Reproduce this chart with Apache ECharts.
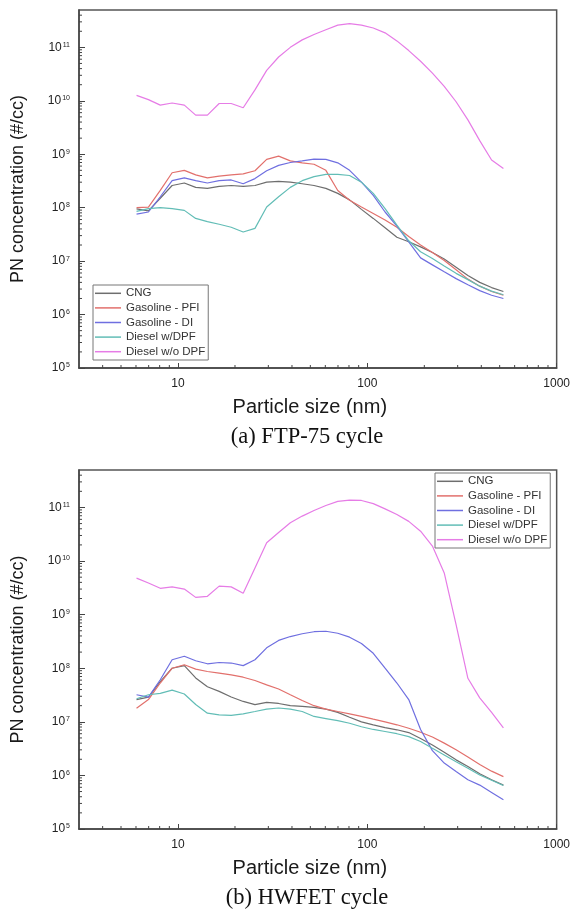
<!DOCTYPE html>
<html>
<head>
<meta charset="utf-8">
<title>PN size distribution</title>
<script src="https://cdn.jsdelivr.net/npm/echarts@6.0.0/dist/echarts.min.js"></script>
<style>
	html, body { margin: 0; padding: 0; background: #fff; }
	#chart { width: 573px; height: 911px; }
</style>
</head>
<body>
<div id="chart"></div>
<script>
// particle size channels (nm)
var sizes = [6.04, 6.98, 8.06, 9.31, 10.8, 12.4, 14.3, 16.5, 19.1, 22.1, 25.5, 29.4, 34.0, 39.2, 45.3, 52.3,
	60.4, 69.8, 80.6, 93.1, 107.5, 124.1, 143.3, 165.5, 191.1, 220.7, 254.8, 294.3, 339.8, 392.4, 453.2, 523.3];

var seriesNames = ['CNG', 'Gasoline - PFI', 'Gasoline - DI', 'Diesel w/DPF', 'Diesel w/o DPF'];
var seriesColors = ['#6e6e6e', '#e2706c', '#6f6fe0', '#62bdb6', '#e67ce6'];

// (a) FTP-75 cycle
var ftpCng = [9.5e7, 8.7e7, 1.5e8, 2.6e8, 2.9e8, 2.4e8, 2.3e8, 2.5e8, 2.6e8, 2.5e8, 2.6e8, 3.0e8, 3.1e8, 3.0e8, 2.8e8, 2.6e8,
	2.3e8, 1.85e8, 1.4e8, 9.3e7, 6.3e7, 4.2e7, 2.8e7, 2.3e7, 1.85e7, 1.45e7, 1.1e7, 7.7e6, 5.4e6, 4.0e6, 3.2e6, 2.7e6];
var ftpPfi = [1.0e8, 1.02e8, 2.1e8, 4.5e8, 5.0e8, 4.1e8, 3.6e8, 3.9e8, 4.1e8, 4.3e8, 4.9e8, 8.0e8, 9.2e8, 7.5e8, 6.9e8, 6.5e8,
	5.0e8, 2.1e8, 1.38e8, 1.03e8, 7.8e7, 5.9e7, 4.3e7, 2.9e7, 2.0e7, 1.45e7, 1.03e7, 6.9e6, 4.6e6, 3.4e6, 2.7e6, 2.3e6];
var ftpDi = [7.6e7, 8.3e7, 1.6e8, 3.2e8, 3.6e8, 3.2e8, 2.9e8, 3.2e8, 3.3e8, 2.8e8, 3.5e8, 4.9e8, 6.2e8, 7.0e8, 7.5e8, 8.1e8,
	8.0e8, 6.9e8, 5.0e8, 3.0e8, 1.7e8, 8.3e7, 4.5e7, 2.3e7, 1.15e7, 8.5e6, 6.3e6, 4.7e6, 3.6e6, 2.8e6, 2.3e6, 2.0e6];
var ftpDieselDpf = [8.5e7, 9.6e7, 1.0e8, 9.6e7, 8.9e7, 6.3e7, 5.5e7, 4.9e7, 4.3e7, 3.5e7, 4.1e7, 1.03e8, 1.6e8, 2.4e8, 3.2e8, 3.8e8,
	4.2e8, 4.2e8, 4.0e8, 3.0e8, 1.85e8, 9.6e7, 4.7e7, 2.4e7, 1.5e7, 1.12e7, 8.1e6, 5.9e6, 4.5e6, 3.4e6, 2.75e6, 2.35e6];
var ftpDieselNoDpf = [1.26e10, 1.05e10, 8.3e9, 9.1e9, 8.3e9, 5.4e9, 5.4e9, 8.9e9, 8.9e9, 7.4e9, 1.6e10, 3.7e10, 6.6e10, 1.0e11, 1.38e11, 1.74e11,
	2.14e11, 2.6e11, 2.78e11, 2.6e11, 2.3e11, 1.87e11, 1.32e11, 8.7e10, 5.5e10, 3.3e10, 1.86e10, 9.6e9, 4.4e9, 1.8e9, 7.8e8, 5.4e8];

// (b) HWFET cycle
var hwCng = [2.6e7, 2.9e7, 5.6e7, 1.0e8, 1.12e8, 6.6e7, 4.5e7, 3.7e7, 2.9e7, 2.4e7, 2.1e7, 2.3e7, 2.2e7, 2.0e7, 1.94e7, 1.86e7,
	1.73e7, 1.5e7, 1.22e7, 1.0e7, 8.8e6, 7.8e6, 7.1e6, 6.3e6, 4.9e6, 3.7e6, 2.7e6, 1.95e6, 1.47e6, 1.07e6, 8.3e5, 6.6e5];
var hwPfi = [1.8e7, 2.6e7, 5.3e7, 1.0e8, 1.16e8, 9.6e7, 8.7e7, 8.1e7, 7.5e7, 6.8e7, 5.9e7, 4.9e7, 4.1e7, 3.2e7, 2.5e7, 2.0e7,
	1.73e7, 1.56e7, 1.41e7, 1.26e7, 1.12e7, 1.0e7, 8.8e6, 7.6e6, 6.4e6, 5.2e6, 4.0e6, 3.0e6, 2.2e6, 1.6e6, 1.2e6, 9.5e5];
var hwDi = [3.2e7, 2.9e7, 6.1e7, 1.44e8, 1.67e8, 1.38e8, 1.21e8, 1.28e8, 1.25e8, 1.12e8, 1.44e8, 2.4e8, 3.3e8, 3.9e8, 4.4e8, 4.8e8,
	4.9e8, 4.5e8, 3.8e8, 2.9e8, 1.9e8, 1.0e8, 5.3e7, 2.6e7, 7.2e6, 2.9e6, 1.7e6, 1.18e6, 8.3e5, 6.6e5, 4.8e5, 3.5e5];
var hwDieselDpf = [2.7e7, 3.2e7, 3.4e7, 3.9e7, 3.3e7, 2.1e7, 1.45e7, 1.35e7, 1.32e7, 1.41e7, 1.56e7, 1.73e7, 1.81e7, 1.73e7, 1.56e7, 1.26e7,
	1.15e7, 1.05e7, 9.4e6, 8.1e6, 7.2e6, 6.6e6, 6.0e6, 5.3e6, 4.3e6, 3.2e6, 2.4e6, 1.8e6, 1.36e6, 1.02e6, 8.1e5, 6.5e5];
var hwDieselNoDpf = [4.8e9, 3.9e9, 3.1e9, 3.3e9, 3.0e9, 2.1e9, 2.2e9, 3.4e9, 3.3e9, 2.5e9, 7.4e9, 2.2e10, 3.4e10, 5.2e10, 6.9e10, 8.8e10,
	1.09e11, 1.3e11, 1.37e11, 1.35e11, 1.18e11, 9.4e10, 7.4e10, 5.5e10, 3.6e10, 1.9e10, 6.0e9, 6.5e8, 6.5e7, 2.8e7, 1.5e7, 7.7e6];

// axes
var xMin = 3, xMax = 1000;
var yMin = 1e5, yMax = 5e11;
var xTickLabels = ['10', '100', '1000'];
var yTickExps = [5, 6, 7, 8, 9, 10, 11];
var minorMantissas = [2, 3, 4, 5, 6, 7, 8, 9];
var xMinorStart = [4, 5, 6, 7, 8, 9];

var captions = ['(a) FTP-75 cycle', '(b) HWFET cycle'];
var xName = 'Particle size (nm)';
var yName = 'PN concentration (#/cc)';

var FONT = 'Liberation Sans, Arial, sans-serif';
var SERIF = 'Liberation Serif, Times New Roman, serif';

// minor tick values (2..9 x 10^n inside the axis range)
var xMinorTicks = xMinorStart.slice();
[10, 100].forEach(function (d) {
	minorMantissas.forEach(function (m) { xMinorTicks.push(m * d); });
});
var yMinorTicks = [];
yTickExps.forEach(function (e) {
	minorMantissas.forEach(function (m) {
		var v = m * Math.pow(10, e);
		if (v < yMax) yMinorTicks.push(v);
	});
});

function pairs(values) {
	return sizes.map(function (s, i) { return [s, values[i]]; });
}

function yLabel(v) {
	var e = Math.round(Math.log(v) / Math.LN10);
	if (yTickExps.indexOf(e) < 0) return '';
	return '{b|10}{s|' + e + '}';
}

function xLabel(v) {
	var s = String(Math.round(v));
	return xTickLabels.indexOf(s) >= 0 ? s : '';
}

function makeAxes(g) {
	var x = {
		type: 'log', gridIndex: g, min: xMin, max: xMax, logBase: 10,
		name: xName, nameLocation: 'middle', nameGap: 29,
		nameTextStyle: { fontFamily: FONT, fontSize: 20, color: '#1a1a1a', padding: [0, 16, 0, 0] },
		axisLine: { lineStyle: { color: '#444', width: 1.5 } },
		axisTick: { inside: true, length: 5, lineStyle: { color: '#444', width: 1 } },
		axisLabel: { formatter: xLabel, showMinLabel: false, margin: 10, fontFamily: FONT, fontSize: 12, color: '#222' },
		splitLine: { show: false }
	};
	var y = {
		type: 'log', gridIndex: g, min: yMin, max: yMax, logBase: 10,
		name: yName, nameLocation: 'middle', nameGap: 52, nameRotate: 90,
		nameTextStyle: { fontFamily: FONT, fontSize: 18, color: '#1a1a1a' },
		axisLine: { lineStyle: { color: '#444', width: 1.5 } },
		axisTick: { inside: true, length: 6, lineStyle: { color: '#444', width: 1 } },
		axisLabel: {
			formatter: yLabel, showMaxLabel: false, margin: 9,
			rich: {
				b: { fontFamily: FONT, fontSize: 12, color: '#222' },
				s: { fontFamily: FONT, fontSize: 7, color: '#222', verticalAlign: 'top', padding: [0, 0, 0, 1] }
			}
		},
		splitLine: { show: false }
	};
	return { x: x, y: y };
}

// short minor ticks drawn through the axis scales
function minorTickSeries(g, dir) {
	var vals = dir === 'x' ? xMinorTicks : yMinorTicks;
	return {
		type: 'custom', xAxisIndex: g, yAxisIndex: g, silent: true, clip: false, z: 5,
		data: vals.map(function (v) { return dir === 'x' ? [v, yMin] : [xMin, v]; }),
		renderItem: function (params, api) {
			var p = api.coord([api.value(0), api.value(1)]);
			return {
				type: 'line',
				shape: dir === 'x' ? { x1: p[0], y1: p[1], x2: p[0], y2: p[1] - 3 } : { x1: p[0], y1: p[1], x2: p[0] + 3, y2: p[1] },
				style: { stroke: '#444', lineWidth: 1 }
			};
		}
	};
}

function lineSeries(g, name, values, color) {
	return {
		type: 'line', name: name, xAxisIndex: g, yAxisIndex: g,
		data: pairs(values), showSymbol: false, symbol: 'none', smooth: false,
		lineStyle: { color: color, width: 1.2 }, itemStyle: { color: color },
		emphasis: { disabled: true }, animation: false
	};
}

var axes0 = makeAxes(0), axes1 = makeAxes(1);

var groups = [
	[ftpCng, ftpPfi, ftpDi, ftpDieselDpf, ftpDieselNoDpf],
	[hwCng, hwPfi, hwDi, hwDieselDpf, hwDieselNoDpf]
];

var series = [];
groups.forEach(function (grp, g) {
	grp.forEach(function (vals, i) {
		series.push(lineSeries(g, seriesNames[i], vals, seriesColors[i]));
	});
	series.push(minorTickSeries(g, 'x'));
	series.push(minorTickSeries(g, 'y'));
});

function legendAt(left, top) {
	return {
		data: seriesNames, orient: 'vertical', left: left, top: top,
		icon: 'rect', itemWidth: 26, itemHeight: 1.5, itemGap: 2,
		padding: [2, 3, 2, 2], borderColor: '#777', borderWidth: 1,
		textStyle: { fontFamily: FONT, fontSize: 11.5, color: '#333', lineHeight: 12.6 },
		selectedMode: false
	};
}

var option = {
	backgroundColor: '#fff',
	animation: false,
	title: [
		{ text: captions[0], left: 307, top: 426, textAlign: 'center', padding: 0,
			textStyle: { fontFamily: SERIF, fontSize: 22.5, fontWeight: 'normal', color: '#111' } },
		{ text: captions[1], left: 307, top: 887, textAlign: 'center', padding: 0,
			textStyle: { fontFamily: SERIF, fontSize: 22.5, fontWeight: 'normal', color: '#111' } }
	],
	legend: [legendAt(93, 285), legendAt(435, 473)],
	grid: [
		{ left: 79, right: 15, top: 10, height: 358, show: true, borderColor: '#555', borderWidth: 1.5, backgroundColor: 'transparent' },
		{ left: 79, right: 15, top: 470, height: 359, show: true, borderColor: '#555', borderWidth: 1.5, backgroundColor: 'transparent' }
	],
	xAxis: [axes0.x, axes1.x],
	yAxis: [axes0.y, axes1.y],
	series: series
};

var chart = echarts.init(document.getElementById('chart'));
chart.setOption(option);
</script>
</body>
</html>
